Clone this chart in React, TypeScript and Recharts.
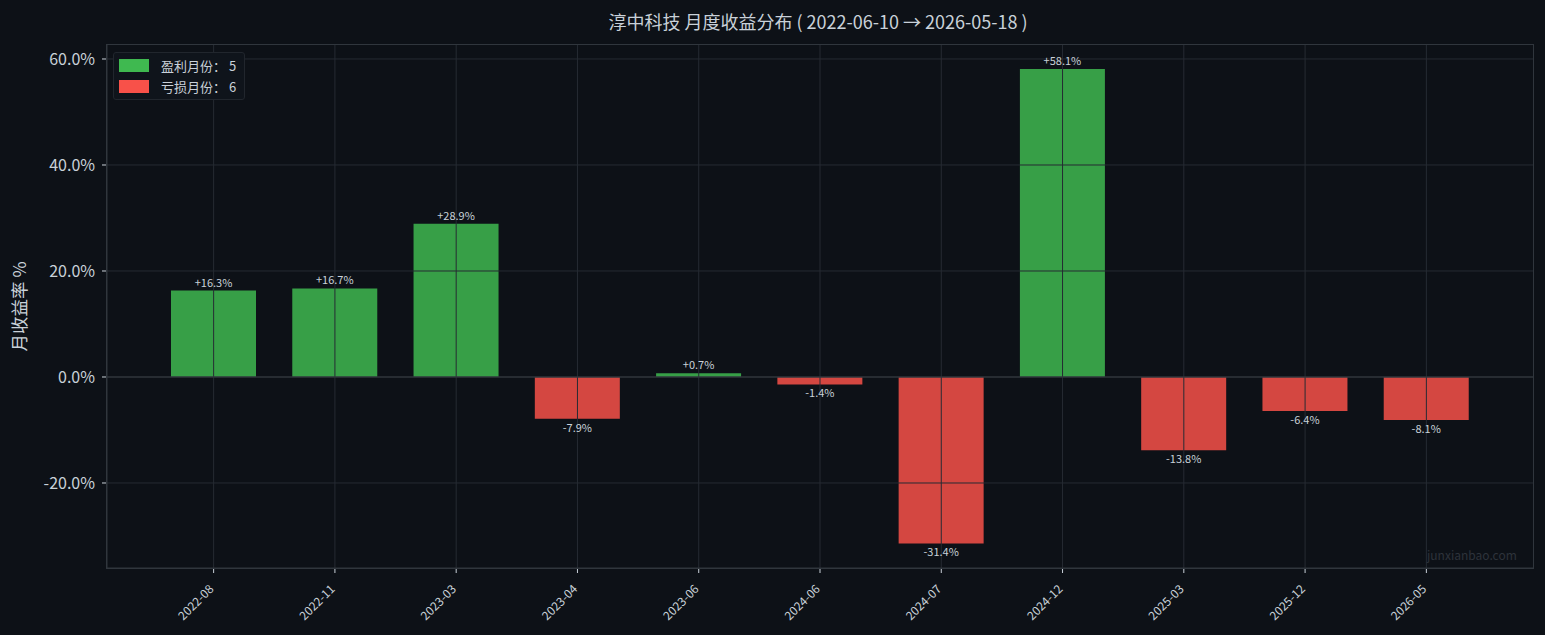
import React from "react";
import {
  BarChart,
  Bar,
  Cell,
  XAxis,
  YAxis,
  ReferenceLine,
  LabelList,
} from "recharts";

const months = [
  "2022-08",
  "2022-11",
  "2023-03",
  "2023-04",
  "2023-06",
  "2024-06",
  "2024-07",
  "2024-12",
  "2025-03",
  "2025-12",
  "2026-05",
];
const returns = [16.3, 16.7, 28.9, -7.9, 0.7, -1.4, -31.4, 58.1, -13.8, -6.4, -8.1];
const yTicks = [-20, 0, 20, 40, 60];
const winCount = 5;
const lossCount = 6;

const BG = "#0d1117";
const GREEN = "#3fb950";
const RED = "#f85149";
const TEXT = "#c9d1d9";
const GRID = "#262b33";
const FONT = "'Noto Sans CJK SC', 'Noto Sans', sans-serif";

const data = months.map((m, i) => ({ month: m, ret: returns[i] }));

const XTick = (props: any) => {
  const { x, y, payload } = props;
  return (
    <g transform={`translate(${x - 2},${y + 12})`}>
      <text
        textAnchor="end"
        fill={TEXT}
        fontSize={12}
        fontFamily={FONT}
        transform="rotate(-45)"
        dy={4}
      >
        {payload.value}
      </text>
    </g>
  );
};

const ValueLabel = (props: any) => {
  const { x, y, width, height, value } = props;
  const top = Math.min(y, y + height);
  const bottom = Math.max(y, y + height);
  const cx = x + width / 2;
  const pos = value >= 0;
  return (
    <text
      x={cx}
      y={pos ? top - 4 : bottom + 13}
      textAnchor="middle"
      fill={TEXT}
      fontSize={11}
      fontFamily={FONT}
    >
      {(pos ? "+" : "") + value.toFixed(1) + "%"}
    </text>
  );
};

export default function App() {
  return (
    <div
      style={{
        position: "absolute",
        left: 0,
        top: 0,
        width: 1545,
        height: 635,
        background: BG,
        fontFamily: FONT,
      }}
    >
      <div
        style={{
          position: "absolute",
          top: 8,
          left: 0,
          width: 1636,
          textAlign: "center",
          color: TEXT,
          fontSize: 18,
          whiteSpace: "pre",
        }}
      >
        {"淳中科技 月度收益分布 ( 2022-06-10 → 2026-05-18 )"}
      </div>
      <BarChart
        width={1545}
        height={635}
        data={data}
        margin={{ top: 45, right: 12, bottom: 0, left: 0 }}
        style={{ position: "absolute", left: 0, top: 0 }}
      >
        <XAxis
          dataKey="month"
          height={67}
          padding={{ left: 46, right: 46 }}
          tick={<XTick />}
          tickLine={{ stroke: TEXT }}
          tickSize={5}
          axisLine={{ stroke: "#30363d" }}
          interval={0}
        />
        <YAxis
          width={107}
          domain={[-36.04, 62.64]}
          ticks={yTicks}
          allowDataOverflow
          tickFormatter={(v: number) => v.toFixed(1) + "%"}
          tick={{ fill: TEXT, fontSize: 16, fontFamily: FONT }}
          tickLine={{ stroke: TEXT }}
          tickSize={5}
          tickMargin={7}
          axisLine={{ stroke: "#30363d" }}
          label={{
            value: "月收益率 %",
            angle: -90,
            position: "insideLeft",
            offset: 20,
            fill: TEXT,
            fontSize: 17.5,
            fontFamily: FONT,
            style: { textAnchor: "middle" },
          }}
        />
        <Bar dataKey="ret" barSize={85} isAnimationActive={false}>
          {data.map((d) => (
            <Cell key={d.month} fill={d.ret >= 0 ? GREEN : RED} fillOpacity={0.85} />
          ))}
          <LabelList dataKey="ret" content={<ValueLabel />} />
        </Bar>
        {/* grid drawn above the bars, as in the reference */}
        {months.map((m) => (
          <ReferenceLine key={m} x={m} stroke={GRID} strokeWidth={1} />
        ))}
        {yTicks
          .filter((t) => t !== 0)
          .map((t) => (
            <ReferenceLine key={t} y={t} stroke={GRID} strokeWidth={1} />
          ))}
        <ReferenceLine y={0} stroke="#30363d" strokeWidth={1.3} />
      </BarChart>
      {/* plot frame */}
      <div
        style={{
          position: "absolute",
          left: 106,
          top: 44,
          width: 1426,
          height: 523,
          border: "1px solid #30363d",
          pointerEvents: "none",
        }}
      />
      {/* legend */}
      <div
        style={{
          position: "absolute",
          left: 113,
          top: 52,
          border: "1px solid #21262d",
          borderRadius: 3,
          background: "#0f141b",
          padding: "2px 8px 2px 5px",
          fontSize: 13,
          color: TEXT,
        }}
      >
        {[
          { c: GREEN, t: `盈利月份： ${winCount}` },
          { c: RED, t: `亏损月份： ${lossCount}` },
        ].map((it) => (
          <div key={it.t} style={{ display: "flex", alignItems: "center", height: 21 }}>
            <span style={{ width: 30, height: 13, background: it.c, marginRight: 12 }} />
            <span>{it.t}</span>
          </div>
        ))}
      </div>
      <div
        style={{
          position: "absolute",
          left: 1427,
          top: 546,
          color: "#2d333b",
          fontSize: 12,
        }}
      >
        junxianbao.com
      </div>
    </div>
  );
}
